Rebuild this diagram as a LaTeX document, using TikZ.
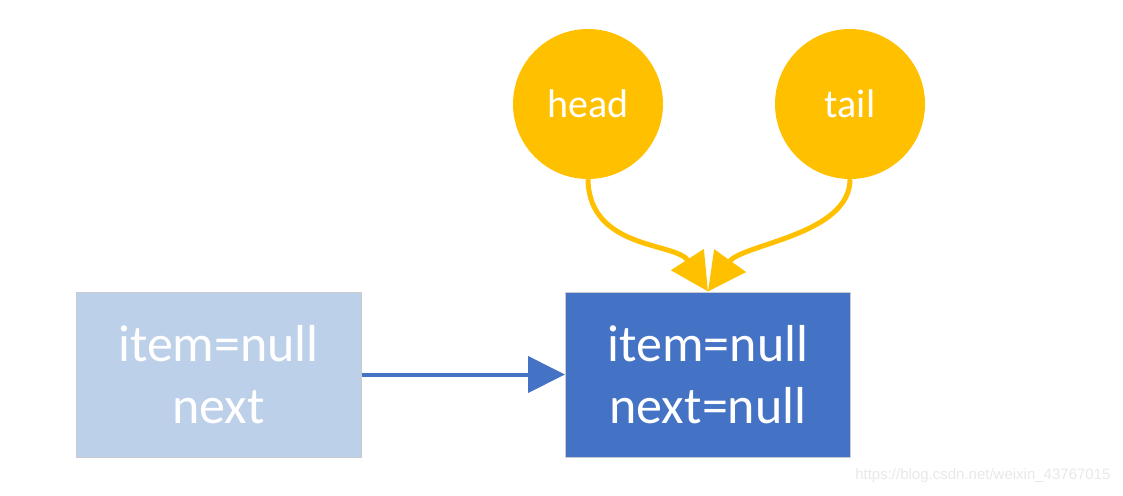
\documentclass[tikz,border=0pt]{standalone}
\usepackage{fontspec}
\setmainfont{Carlito}
\newfontfamily\wmfont{Liberation Sans}
\usetikzlibrary{arrows.meta}
\definecolor{nodeblue}{HTML}{4472C4}
\definecolor{paleblue}{HTML}{BDD0E9}
\definecolor{ptryellow}{HTML}{FFC000}
\definecolor{edgegray}{HTML}{C8CCD2}

\begin{document}
\begin{tikzpicture}[x=1pt,y=-1pt,
  box/.style={draw=edgegray,line width=1pt,align=center,inner sep=0pt,minimum width=285pt,minimum height=165pt,text=white,font=\fontsize{52}{62}\selectfont},
  ptr/.style={circle,fill=ptryellow,minimum size=150pt,inner sep=0pt,text=white,font=\fontsize{40}{48}\selectfont},
  ar/.style={-{Triangle[length=37pt,width=36pt]},line width=4pt,draw=nodeblue},
  yar/.style={-{Triangle[length=38pt,width=38pt]},line width=5pt,draw=ptryellow}]
\useasboundingbox (0,0) rectangle (1123,495);
\node[box,fill=paleblue] (prev) at (218.5,374.5) {item=null\\next};
\node[box,fill=nodeblue] (cur) at (708,374.5) {item=null\\next=null};
\node[ptr] (head) at (588,104) {head};
\node[ptr] (tail) at (850,104) {tail};
\draw[ar] (prev.east) -- (cur.west);
\draw[yar] (head.south) .. controls (589,250) and (676,242) .. (cur.north);
\draw[yar] (tail.south) .. controls (850,235) and (742,244) .. (cur.north);
\node[anchor=east,text=black!9,font=\wmfont\fontsize{15}{18}\selectfont] (wm) at (1114,476) {https://blog.csdn.net/weixin\_43767015};
\end{tikzpicture}
\end{document}
